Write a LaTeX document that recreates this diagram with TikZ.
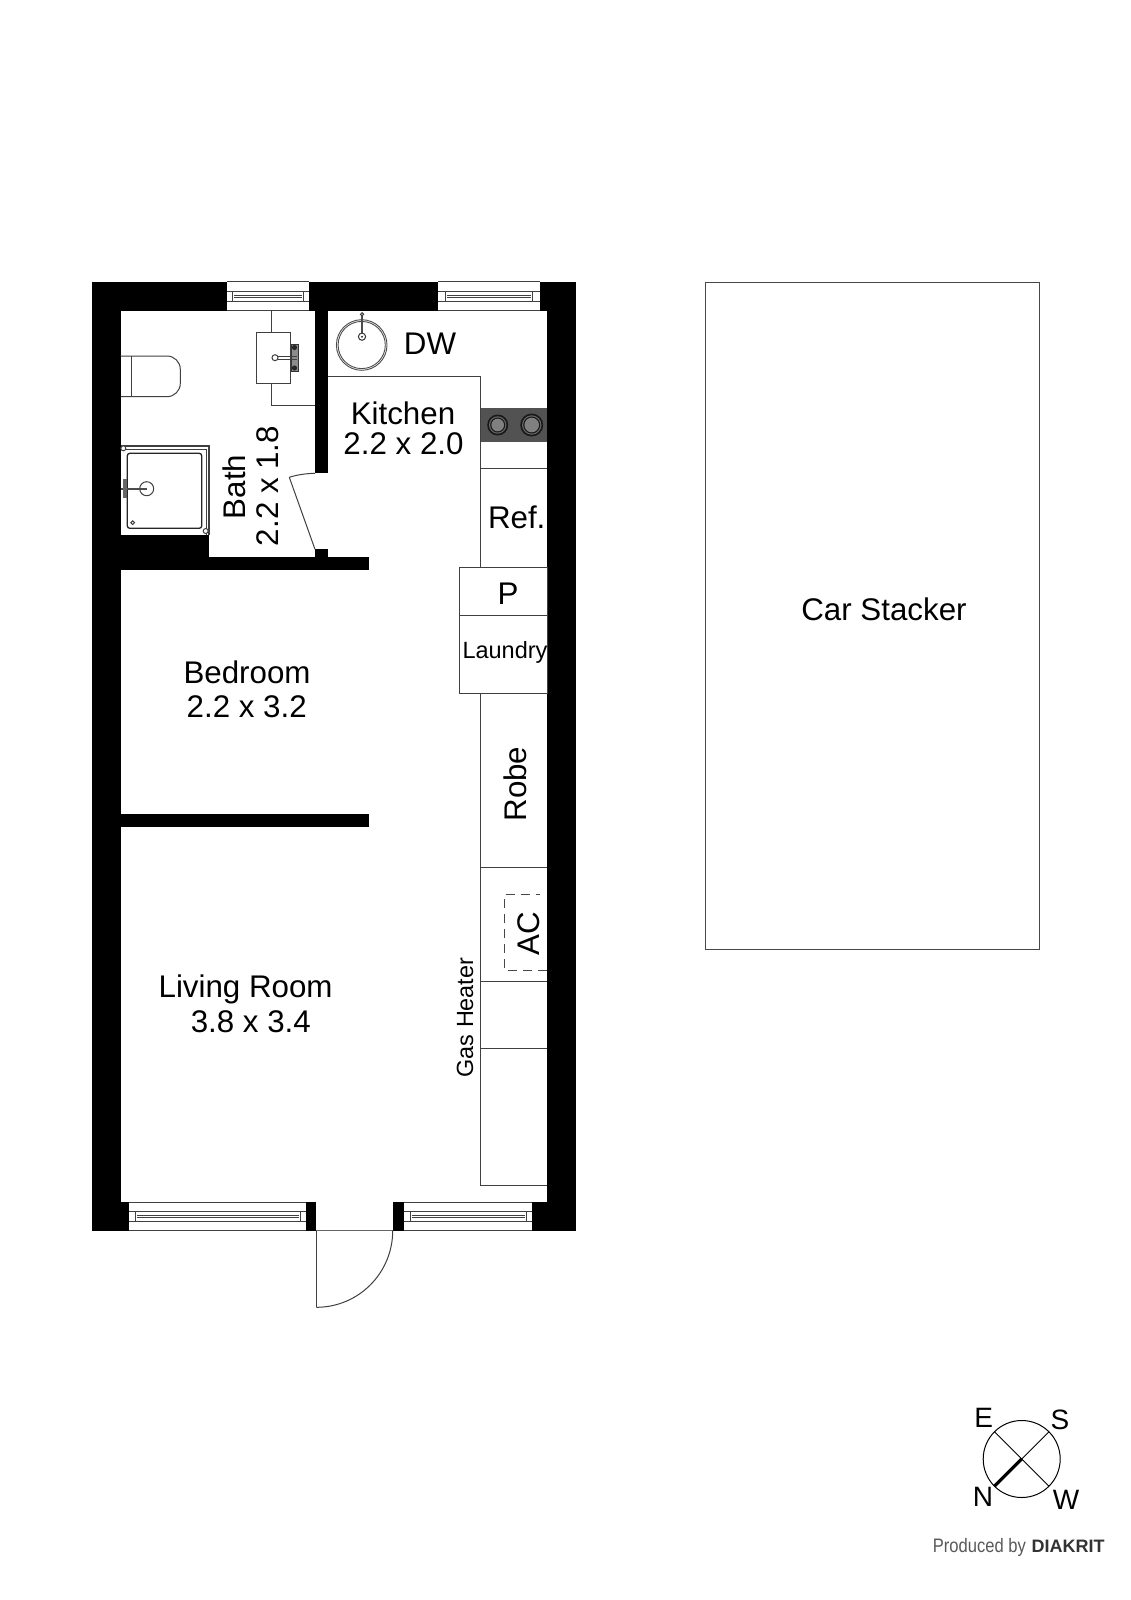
\documentclass[tikz,border=0pt]{standalone}
\usepackage{fontspec}
\setmainfont{Liberation Sans}
\newcommand{\sz}[1]{\fontsize{#1}{#1}\selectfont}
% window: x0 x1 frameL frameR  yOut yIn yA yB
\newcommand{\fpwindow}[8]{%
  \fill[white] (#1,#5) rectangle (#2,#6);
  \draw[fine] (#1,#5) -- (#2,#5) (#1,#6) -- (#2,#6) (#1,#7) -- (#2,#7) (#1,#8) -- (#2,#8);
  \draw[fine] (#3,#7) -- (#3,#8) (#4,#7) -- (#4,#8);
  \draw[fine] (#3+1.5,{(#7+#8)/2-1}) -- (#4-1.5,{(#7+#8)/2-1}) (#3+1.5,{(#7+#8)/2+1}) -- (#4-1.5,{(#7+#8)/2+1});
}
\tikzset{
  fine/.style={draw=black!75,line width=1pt},
  wallfill/.style={fill=black},
  lab/.style={inner sep=0pt,anchor=base,font=\sz{31.3}},
  labr/.style={inner sep=0pt,anchor=base,font=\sz{31.3},rotate=90},
}
\begin{document}
\begin{tikzpicture}[x=1pt,y=-1pt]
\useasboundingbox (0,0) rectangle (1131,1600);
\fill[white] (0,0) rectangle (1131,1600);
% --- walls
\fill[wallfill] (92,281.5) rectangle (575.7,310.7);
\fill[wallfill] (92,281.5) rectangle (120.7,1230.7);
\fill[wallfill] (547,281.5) rectangle (575.7,1230.7);
\fill[wallfill] (92,1202.3) rectangle (316.3,1230.7);
\fill[wallfill] (392.7,1202.3) rectangle (575.7,1230.7);
\fill[wallfill] (315,310.7) rectangle (328,473.3);
\fill[wallfill] (120.7,535) rectangle (209.3,570.3);
\fill[wallfill] (120.7,557.3) rectangle (369.3,570.3);
\fill[wallfill] (315,549.3) rectangle (328,557.3);
\fill[wallfill] (120.7,813.5) rectangle (369.3,827);
% --- windows
\fpwindow{227.3}{308.7}{232.7}{303.3}{281.5}{310.7}{291.7}{301.7}
\fpwindow{437.7}{540}{445.7}{532.3}{281.5}{310.7}{291.7}{301.7}
\fpwindow{129.3}{305.7}{135.3}{300}{1230.7}{1202.3}{1221.7}{1211.7}
\fpwindow{404.3}{531.7}{410}{526}{1230.7}{1202.3}{1221.7}{1211.7}
% --- entry door
\draw[black!60,line width=0.8pt] (316.3,1230.7) -- (392.7,1230.7);
\coordinate (doorHinge) at (316.3,1230.7);
\coordinate (doorTip) at (316.3,1307.3);
\coordinate (doorJamb) at (392.7,1230.7);
\draw[fine] (doorHinge) -- (doorTip);
\draw[fine] (doorTip) .. controls (358.6,1307.3) and (392.7,1273) .. (doorJamb);
% --- bath door
\coordinate (bdHinge) at (315,549.3);
\coordinate (bdTip) at (289.3,477.3);
\coordinate (bdJamb) at (315,473.3);
\draw[fine] (bdHinge) -- (bdTip);
\draw[fine] (bdTip) .. controls (297,474.8) and (306,473.5) .. (bdJamb);
% --- toilet
\draw[fine] (120.7,356) -- (167,356) arc[start angle=-90,end angle=0,radius=13.3] -- (180.3,383.4) arc[start angle=0,end angle=90,radius=13.3] -- (120.7,396.7);
\draw[fine] (131.7,356) -- (131.7,396.7);
% --- vanity
\draw[fine] (271,310.7) -- (271,405.7) -- (315,405.7);
\draw[fine,fill=white] (256.7,332.3) rectangle (290.7,383.3);
\draw[black!80,fill=black!45,line width=0.7pt] (291,344) rectangle (298,371.7);
\fill[black!85] (294.5,347.5) circle[radius=2.6] (294.5,368) circle[radius=2.6];
\draw[fine,fill=white] (275,357.7) circle[radius=3];
\draw[fine] (278,356.4) -- (297,356.4) (278,359) -- (297,359);
% --- shower
\draw[black!75,line width=2pt] (120.7,445.9) -- (209.3,445.9) -- (209.3,535);
\draw[black!75,line width=1pt] (120.7,449) -- (206.3,449) -- (206.3,535);
\draw[black!85,line width=1.3pt,rounded corners=2.5pt] (127.3,453.3) rectangle (201.7,528.3);
\draw[fine] (146.7,488.7) circle[radius=7];
\draw[black!70,line width=1.8pt] (121,488.7) -- (147,488.7);
\fill[black!60] (123,479) rectangle (127,498);
\draw[fine,fill=white] (132.7,522.7) circle[radius=1.8];
\draw[fine,fill=white] (123.3,448.3) circle[radius=2.5];
\draw[fine,fill=white] (205.7,531) circle[radius=2.5];
% --- kitchen counter
\draw[fine] (328,376.7) -- (480.5,376.7) -- (480.5,567);
\draw[fine] (480.5,468.5) -- (547,468.5);
\fill[black!68] (481,408.3) rectangle (547,442.3);
\foreach \cx/\rr in {497.7/10.5,531.7/11.5}{
  \fill[black!90] (\cx,425) circle[radius=\rr];
  \fill[black!60] (\cx,425) circle[radius=\rr-1.8];
  \fill[black!90] (\cx,425) circle[radius=\rr-3];
  \fill[black!50] (\cx,425) circle[radius=\rr-4.2];
}
% --- sink
\draw[black!70,line width=0.9pt] (361.7,345) circle[radius=25.3];
\draw[black!70,line width=0.9pt] (361.7,345) circle[radius=23.6];
\draw[black!70,line width=1.4pt] (362,316) -- (362,333);
\draw[black!80,line width=1pt,fill=white] (362,336.7) circle[radius=3.6];
\fill[black!80] (362,336.7) circle[radius=1.1];
\draw[fine,fill=white] (362,314.3) circle[radius=1.6];
% --- cupboards
\draw[fine] (459.5,567) rectangle (547,693.5);
\draw[fine] (459.5,615) -- (547,615);
\draw[fine] (480.5,693.5) -- (480.5,1185) -- (547,1185);
\draw[fine] (480.5,867) -- (547,867);
\draw[fine] (480.5,981) -- (547,981);
\draw[fine] (480.5,1048) -- (547,1048);
\draw[black!72,line width=0.9pt,dash pattern=on 9pt off 6pt] (547,970) -- (504,970) -- (504,894.6) -- (540,894.6);
% --- car stacker
\draw[black!72,line width=0.9pt] (705,282.5) rectangle (1039,949.5);
% --- labels
\node[lab] (kitchenA) at (403,424) {Kitchen};
\node[lab] (kitchenB) at (403.5,454) {2.2 x 2.0};
\node[labr] (bathA) at (245.7,487) {Bath};
\node[labr] (bathB) at (278,486) {2.2 x 1.8};
\node[lab] (dw) at (430,354.3) {DW};
\node[lab] (ref) at (516.7,528.3) {Ref.};
\node[lab] (pantry) at (508,604) {P};
\node[lab,font=\sz{23.5}] (laundry) at (505,658) {Laundry};
\node[lab] (bedA) at (247,683) {Bedroom};
\node[lab] (bedB) at (246.7,717.5) {2.2 x 3.2};
\node[lab] (livA) at (245.6,997) {Living Room};
\node[lab] (livB) at (250.8,1032.8) {3.8 x 3.4};
\node[lab] (car) at (884,620) {Car Stacker};
\node[labr] (robe) at (526,784) {Robe};
\node[labr] (ac) at (539,933.5) {AC};
\node[labr,font=\sz{23.4}] (gas) at (473,1017.5) {Gas Heater};
% --- compass
\coordinate (cc) at (1021.7,1459);
\draw[black,line width=1pt] (cc) circle[radius=38.5];
\draw[black,line width=0.9pt] (cc) ++(45:-38.5) -- ++(45:77);
\draw[black,line width=0.9pt] (cc) -- ++(135:-38.5);
\draw[black,line width=3.2pt] (cc) -- ++(135:38.5);
\node[lab,font=\sz{28}] (compE) at (983.7,1427.3) {E};
\node[lab,font=\sz{28}] (compS) at (1060,1429) {S};
\node[lab,font=\sz{28}] (compN) at (983,1506.7) {N};
\node[lab,font=\sz{28}] (compW) at (1066,1509) {W};
% --- credit
\node[inner sep=0pt,anchor=base west,text=black!65,font=\sz{19.5},xscale=.85] (prod) at (932.7,1552) {Produced by};
\node[inner sep=0pt,anchor=base west,text=black!80,font=\sz{18}\bfseries] (diak) at (1031.5,1552) {DIAKRIT};
\end{tikzpicture}
\end{document}
